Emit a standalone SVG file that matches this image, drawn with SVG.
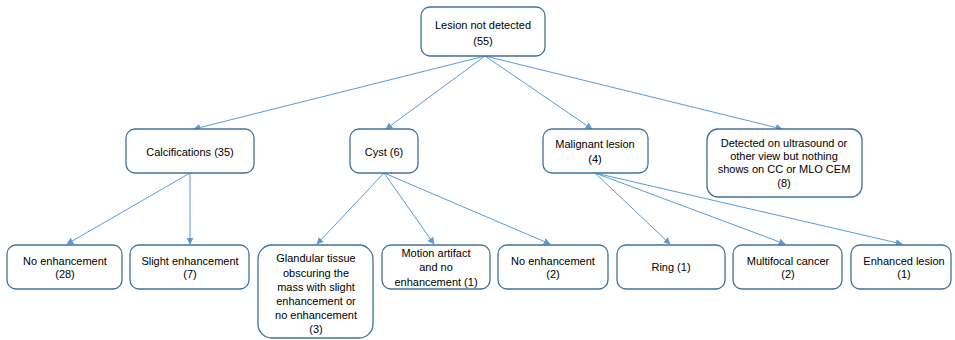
<svg xmlns="http://www.w3.org/2000/svg" width="955" height="340" viewBox="0 0 955 340">
  <style>
    .box { fill: #ffffff; stroke: #41719c; stroke-width: 1.3; }
    .lbl { font-family: "Liberation Sans", Arial, sans-serif; font-size: 11px; fill: #000000; text-anchor: middle; }
    .edge { stroke: #5b9bd5; stroke-width: 1; fill: none; marker-end: url(#arrow); }
  </style>
  <defs>
    <marker id="arrow" viewBox="0 0 10 10" refX="9" refY="5" markerWidth="7" markerHeight="7" orient="auto" markerUnits="userSpaceOnUse">
      <path d="M0,0 L10,5 L0,10 z" fill="#5b9bd5"/>
    </marker>
  </defs>
  <rect width="955" height="340" fill="#ffffff"/>

  <g id="connectors">
    <line class="edge" x1="485" y1="56" x2="194" y2="129"/>
    <line class="edge" x1="485" y1="56" x2="386" y2="129"/>
    <line class="edge" x1="485" y1="56" x2="592" y2="129"/>
    <line class="edge" x1="485" y1="56" x2="782" y2="129"/>
    <line class="edge" x1="190" y1="173" x2="67" y2="244"/>
    <line class="edge" x1="190" y1="173" x2="190" y2="244"/>
    <line class="edge" x1="384" y1="173" x2="317" y2="244"/>
    <line class="edge" x1="384" y1="173" x2="434" y2="244"/>
    <line class="edge" x1="384" y1="173" x2="550" y2="244"/>
    <line class="edge" x1="595" y1="173" x2="670" y2="244"/>
    <line class="edge" x1="595" y1="173" x2="785" y2="244"/>
    <line class="edge" x1="595" y1="173" x2="902" y2="244"/>
  </g>

  <g id="root">
    <rect class="box" x="421" y="7" width="124" height="49" rx="9"/>
    <text class="lbl" x="483" y="29">Lesion not detected</text>
    <text class="lbl" x="483" y="45">(55)</text>
  </g>

  <g id="calcifications">
    <rect class="box" x="126" y="129" width="128" height="44" rx="9"/>
    <text class="lbl" x="190" y="156">Calcifications (35)</text>
  </g>

  <g id="cyst">
    <rect class="box" x="350" y="129" width="68" height="44" rx="9"/>
    <text class="lbl" x="384" y="156">Cyst (6)</text>
  </g>

  <g id="malignant">
    <rect class="box" x="543" y="129" width="105" height="44" rx="9"/>
    <text class="lbl" x="595" y="148">Malignant lesion</text>
    <text class="lbl" x="595" y="163">(4)</text>
  </g>

  <g id="other-view">
    <rect class="box" x="707" y="129" width="155" height="68" rx="11"/>
    <text class="lbl" x="784" y="147">Detected on ultrasound or</text>
    <text class="lbl" x="784" y="160">other view but nothing</text>
    <text class="lbl" x="784" y="173">shows on CC or MLO CEM</text>
    <text class="lbl" x="784" y="187">(8)</text>
  </g>

  <g id="calc-no-enhancement">
    <rect class="box" x="7" y="245" width="115" height="44" rx="9"/>
    <text class="lbl" x="65" y="265">No enhancement</text>
    <text class="lbl" x="65" y="278">(28)</text>
  </g>

  <g id="calc-slight-enhancement">
    <rect class="box" x="130" y="245" width="119" height="44" rx="9"/>
    <text class="lbl" x="190" y="265">Slight enhancement</text>
    <text class="lbl" x="190" y="278">(7)</text>
  </g>

  <g id="cyst-glandular">
    <rect class="box" x="258" y="245" width="115" height="93" rx="14"/>
    <text class="lbl" x="316" y="262">Glandular tissue</text>
    <text class="lbl" x="316" y="277">obscuring the</text>
    <text class="lbl" x="316" y="291">mass with slight</text>
    <text class="lbl" x="316" y="305">enhancement or</text>
    <text class="lbl" x="316" y="319">no enhancement</text>
    <text class="lbl" x="316" y="333">(3)</text>
  </g>

  <g id="cyst-motion">
    <rect class="box" x="382" y="245" width="108" height="44" rx="9"/>
    <text class="lbl" x="436" y="257">Motion artifact</text>
    <text class="lbl" x="436" y="271">and no</text>
    <text class="lbl" x="436" y="286">enhancement (1)</text>
  </g>

  <g id="cyst-no-enhancement">
    <rect class="box" x="498" y="245" width="110" height="44" rx="9"/>
    <text class="lbl" x="553" y="265">No enhancement</text>
    <text class="lbl" x="553" y="278">(2)</text>
  </g>

  <g id="ring">
    <rect class="box" x="617" y="245" width="108" height="44" rx="9"/>
    <text class="lbl" x="671" y="271">Ring (1)</text>
  </g>

  <g id="multifocal">
    <rect class="box" x="733" y="245" width="109" height="44" rx="9"/>
    <text class="lbl" x="788" y="265">Multifocal cancer</text>
    <text class="lbl" x="788" y="278">(2)</text>
  </g>

  <g id="enhanced-lesion">
    <rect class="box" x="851" y="245" width="100" height="44" rx="9"/>
    <text class="lbl" x="904" y="265">Enhanced lesion</text>
    <text class="lbl" x="904" y="278">(1)</text>
  </g>
</svg>
